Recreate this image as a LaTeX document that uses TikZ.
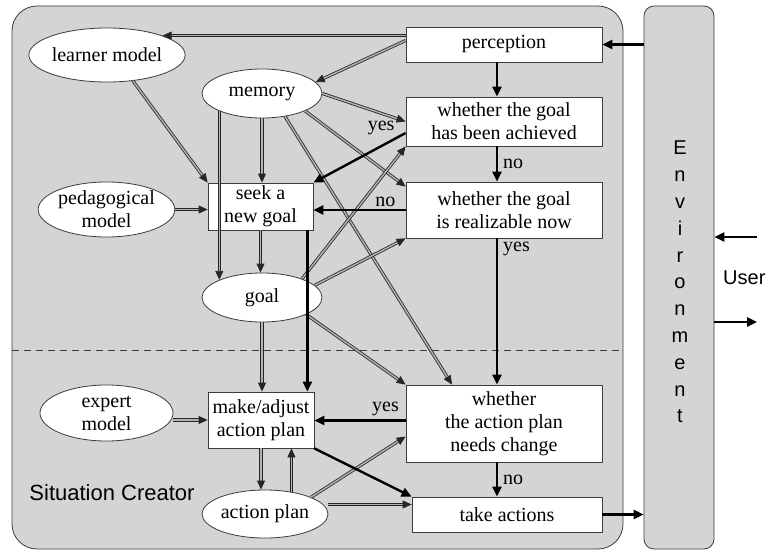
\documentclass[tikz,border=0pt]{standalone}
\usepackage{fontspec}
\setmainfont{Liberation Serif}
\setsansfont{Liberation Sans}
\usetikzlibrary{arrows.meta,shapes.geometric,calc}
\definecolor{bgcol}{RGB}{212,212,212}
\definecolor{edgecol}{RGB}{60,60,60}
\tikzset{
  txt/.style={font=\fontsize{20}{23}\selectfont},
  box/.style={draw=edgecol, fill=white, line width=0.8pt, txt, align=center, inner sep=0pt},
  ell/.style={ellipse, draw=edgecol, fill=white, line width=0.8pt, txt, align=center, inner sep=0pt},
  dbl/.style={draw=black!85, line width=0.8pt, double=gray!60, double distance=1.5pt, -{Triangle[length=9pt,width=8pt]}},
  thk/.style={draw=black, line width=2.4pt, -{Triangle[length=10pt,width=9pt]}},
  lab/.style={txt, inner sep=1pt}
}
\begin{document}
\begin{tikzpicture}[x=1pt,y=-1pt]
\useasboundingbox (0,0) rectangle (768,551);
% containers
\node[draw=edgecol, fill=bgcol, line width=0.8pt, rounded corners=25pt, minimum width=611pt, minimum height=543pt, inner sep=0pt] (main) at (317.5,277.5) {};
\node[draw=edgecol, fill=bgcol, line width=0.8pt, rounded corners=10pt, minimum width=70pt, minimum height=543pt, inner sep=0pt] (env) at (679,277.5) {};
\node[font=\sffamily\fontsize{20}{26.8}\selectfont, align=center, inner sep=0pt] (envtxt) at (680,282) {E\\n\\v\\i\\r\\o\\n\\m\\e\\n\\t};
\draw[edgecol, line width=0.7pt, dash pattern=on 7pt off 5pt] (12,350) -- (623,350);
\node[font=\sffamily\fontsize{22}{26}\selectfont, inner sep=0pt] (sc) at (112,493) {Situation Creator};
\node[font=\sffamily\fontsize{20}{24}\selectfont, inner sep=0pt, anchor=west] (user) at (723,278) {User};

% boxes
\node[box, minimum width=196pt, minimum height=35pt] (perception) at (504,44.5) {perception};
\node[box, minimum width=196pt, minimum height=49pt] (achieved) at (504,121.5) {whether the goal\\has been achieved};
\node[box, minimum width=196pt, minimum height=56pt] (realizable) at (504,210) {whether the goal\\is realizable now};
\node[box, minimum width=196pt, minimum height=77pt] (needs) at (504,423.5) {whether\\the action plan\\needs change};
\node[box, minimum width=190pt, minimum height=35pt] (takeact) at (507,514.5) {take actions};
\node[box, minimum width=105pt, minimum height=47pt] (seek) at (260.5,206.5) {seek a\\new goal};
\node[box, minimum width=106pt, minimum height=56pt] (make) at (261,420) {make/adjust\\action plan};

% ellipses
\node[ell, minimum width=134pt, minimum height=54pt] (learner) at (107,55) {learner model};
\node[ell, minimum width=120pt, minimum height=49pt] (memory) at (262,93.5) {memory};
\node[ell, minimum width=133pt, minimum height=55pt] (pedag) at (106.5,209.5) {pedagogical\\model};
\node[ell, minimum width=120pt, minimum height=49pt] (goal) at (262,297.5) {goal};
\node[ell, minimum width=133pt, minimum height=56pt] (expert) at (106.5,413) {expert\\model};
\node[ell, minimum width=126pt, minimum height=48pt] (actplan) at (265,514) {action plan};

% double connectors
\draw[dbl] (learner.north east -| perception.west) -- (learner.north east);
\draw[dbl] ([yshift=4pt]perception.west) -- (memory.12);
\draw[dbl] (learner.-45) -- (seek.north west);
\draw[dbl] (memory.south) -- (memory.south |- seek.north);
\draw[dbl] (memory.east) -- (achieved.west);
\draw[dbl] (memory.-22) -- ([yshift=-5pt]realizable.north west);
\draw[dbl] (memory.-45) -- ([xshift=-52pt]needs.north);
\draw[dbl] (goal.25) -- (achieved.south west);
\draw[dbl] (goal.13) -- (realizable.south west);
\draw[dbl] (goal.-21) -- (needs.north west);
\draw[dbl] (seek.south) -- (seek.south |- goal.north);
\draw[dbl] (goal.south) -- (goal.south |- make.north);
\draw[dbl] (make.west -| expert.east) -- (make.west);
\draw[dbl] (pedag.east) -- (pedag.east -| seek.west);
\draw[dbl] (make.south) -- (make.south |- actplan.north);
\draw[dbl] (actplan.40) -- (actplan.40 |- make.south);
\draw[dbl] (actplan.20) -- ([yshift=-13pt]needs.west);
\draw[dbl] ([yshift=10pt]takeact.west -| actplan.east) -- ([yshift=10pt]takeact.west);
\draw[dbl] (memory.south west) -- (goal.north west);

% thick connectors
\draw[thk] (perception.east -| env.west) -- (perception.east);
\draw[thk] ([xshift=-7pt]perception.south) -- ([xshift=-7pt]achieved.north);
\draw[thk] ([xshift=-7pt]achieved.south) -- node[lab, right=4pt] {no} ([xshift=-7pt]realizable.north);
\draw[thk] ([yshift=-11.5pt]achieved.west) -- node[lab, pos=0.2, anchor=south, yshift=6pt, xshift=-6pt] {yes} (seek.north east);
\draw[thk] (realizable.west) -- node[lab, pos=0.22, above=1pt] {no} (realizable.west -| seek.east);
\draw[thk] ([xshift=-7pt]realizable.south) -- node[lab, pos=0.07, right=4pt] {yes} ([xshift=-7pt]needs.north);
\draw[thk] ([xshift=-6pt]seek.south east) -- ([xshift=-6pt]seek.south east |- make.north);
\draw[thk] ([yshift=3pt]needs.west) -- node[lab, pos=0.22, above=2pt] {yes} ([yshift=3pt]needs.west -| make.east);
\draw[thk] ([xshift=-7pt]needs.south) -- node[lab, right=4pt] {no} ([xshift=-7pt]needs.south |- takeact.north);
\draw[thk] (make.south east) -- (takeact.north west);
\draw[thk] (takeact.east) -- (takeact.east -| env.west);
\coordinate (uin) at (757,237);
\coordinate (uout) at (757,322);
\draw[thk] (uin) -- (uin -| env.east);
\draw[thk] (uout -| env.east) -- (uout);
\end{tikzpicture}
\end{document}
